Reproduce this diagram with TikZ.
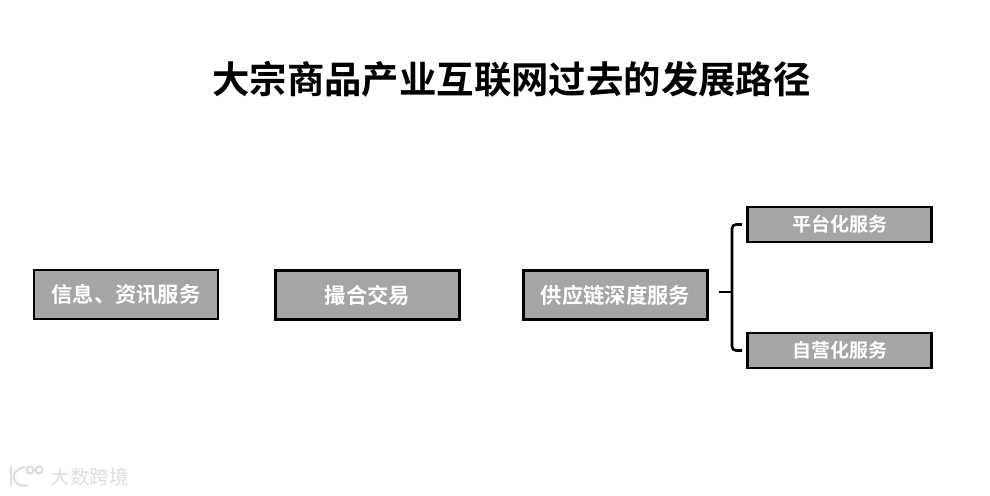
\documentclass[tikz,border=0pt]{standalone}
\usepackage{fontspec}
\newfontfamily\cjk{Noto Sans CJK SC}[BoldFont={Noto Sans CJK SC Bold}]
\begin{document}
\begin{tikzpicture}[x=1pt,y=-1pt,
  box/.style={draw=black,line width=2.6pt,fill=boxgray,minimum width=184pt,inner sep=0pt,text=white,font=\cjk\bfseries\fontsize{21.3}{21}\selectfont},
  bigbox/.style={box,minimum height=49pt},
  smallbox/.style={box,minimum height=35pt,font=\cjk\bfseries\fontsize{19}{19}\selectfont},
  brace/.style={draw=black,line width=2.6pt,rounded corners=4pt},
  title/.style={font=\cjk\bfseries\fontsize{37.4}{37}\selectfont,text=black,inner sep=0pt},
  wmtext/.style={font=\cjk\fontsize{19.5}{20}\selectfont,text=wmgray,inner sep=0pt}]
\definecolor{boxgray}{HTML}{A5A5A5}
\definecolor{wmgray}{HTML}{DEDEDE}
\useasboundingbox (0,0) rectangle (990,495);
\fill[white] (0,0) rectangle (990,495);
\node[title] (head) at (511.5,79.5) {大宗商品产业互联网过去的发展路径};
\node[bigbox] (info) at (126,294.5) {\raisebox{-0.5pt}{信息、资讯服务}};
\node[bigbox] (match) at (367.5,295) {撮合交易};
\node[bigbox] (chain) at (615.5,295) {供应链深度服务};
\node[smallbox] (plat) at (839.5,224.5) {\raisebox{-1pt}{平台化服务}};
\node[smallbox] (self) at (839.5,350.5) {\raisebox{-1pt}{自营化服务}};
\coordinate (tip) at (719,292);
\coordinate (spine) at (732,292);
\draw[brace] ([xshift=-4pt]plat.west) -- (spine |- plat.west) -- (spine);
\draw[brace] (spine) -- (spine |- self.west) -- ([xshift=-4pt]self.west);
\draw[draw=black,line width=2.6pt] (tip) -- (spine);
% watermark
\node[wmtext] (wm) at (89.5,477.5) {大数跨境};
\begin{scope}[draw=wmgray,line width=2.2pt]
\draw (11,466) -- (11,486);
\draw (25,467) .. controls (16,469) and (13,474) .. (14,478) .. controls (15,484) and (21,487) .. (28,485);
\draw (30,470) circle (3.5pt);
\draw (39,470) circle (3.5pt);
\end{scope}
\end{tikzpicture}
\end{document}
